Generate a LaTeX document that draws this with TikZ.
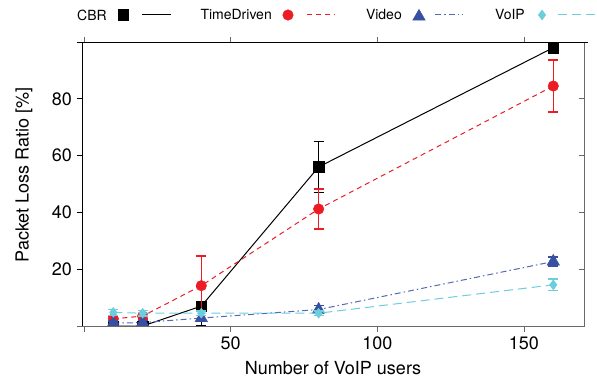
\documentclass[tikz,border=0pt]{standalone}
\usepackage{fontspec}
\setmainfont{TeX Gyre Heros}
\usepackage{tikz}
\usetikzlibrary{plotmarks, calc}

\definecolor{cbrblack}{RGB}{0, 0, 0}
\definecolor{tdred}{RGB}{237, 28, 36}
\definecolor{vidblue}{RGB}{55, 80, 162}
\definecolor{voipcyan}{RGB}{108, 205, 220}
\definecolor{framegray}{RGB}{105, 105, 105}

\tikzset{
  ticklbl/.style={font=\fontsize{18}{18}\selectfont, inner sep=0pt},
  axislbl/.style={font=\fontsize{18}{18}\selectfont, inner sep=0pt},
  keylbl/.style={font=\fontsize{14}{14}\selectfont, inner sep=0pt, anchor=east},
  errbar/.style={line width=1.3pt},
  cbrline/.style={cbrblack, line width=1pt},
  tdline/.style={tdred, line width=1pt, dash pattern=on 5pt off 4pt},
  vidline/.style={vidblue!85, line width=1pt, dash pattern=on 6pt off 3pt on 1.5pt off 3pt},
  voipline/.style={voipcyan, line width=1pt, dash pattern=on 9pt off 5pt},
  cbrmark/.style={only marks, mark=square*, mark size=5.3pt, mark options={solid, draw=cbrblack, fill=cbrblack}},
  tdmark/.style={only marks, mark=*, mark size=5.3pt, mark options={solid, draw=tdred, fill=tdred}},
  vidmark/.style={only marks, mark=triangle*, mark size=7.2pt, mark options={solid, draw=vidblue, fill=vidblue}},
  voipmark/.style={only marks, mark=diamond*, mark size=5pt, mark options={solid, draw=voipcyan, fill=voipcyan}}
}

\begin{document}
\begin{tikzpicture}[x=1pt, y=1pt]
  \useasboundingbox (0,0) rectangle (597,384);

  % Key
  \node[keylbl] (kcbr) at (107,369) {CBR};
  \draw plot[cbrmark] coordinates {(123,369)};
  \draw[cbrline] (142,369) -- (171,369);
  \node[keylbl] (ktd) at (272,369) {TimeDriven};
  \draw plot[tdmark] coordinates {(288,369)};
  \draw[tdline] (307,369) -- (335,369);
  \node[keylbl] (kvid) at (402,369) {Video};
  \draw plot[vidmark] coordinates {(419,367.5)};
  \draw[vidline] (435,369) -- (463,369);
  \node[keylbl] (kvoip) at (525,369) {VoIP};
  \draw plot[voipmark] coordinates {(542,369)};
  \draw[voipline] (558,369) -- (597,369);

  % Axis labels
  \node[axislbl] (xlbl) at (333,16) {Number of VoIP users};
  \node[axislbl, rotate=90] (ylbl) at (24,209) {Packet Loss Ratio [\%]};

  \begin{scope}[shift={(84pt,58pt)}, x=2.933pt, y=2.84pt]
    \coordinate (ll) at (-0.68,0);
    \coordinate (ul) at (-0.68,100);
    \coordinate (lr) at (170.5,0);
    \coordinate (ur) at (170.5,100);

    % Data, clipped to the frame
    \begin{scope}
      \clip (ll) rectangle (ur);

      % CBR
      \draw[cbrline] (10,0) -- (20,0) -- (40,7) -- (80,56) -- (160,98);
      \foreach \px/\py/\pe in {10/0/0.3, 20/0/0.4, 40/7/7, 80/56/9, 160/98/0.5}
        \draw[errbar, cbrblack] (\px,\py-\pe) -- (\px,\py+\pe)
          ($(\px,\py-\pe)+(-5pt,0)$) -- ++(10pt,0)
          ($(\px,\py+\pe)+(-5pt,0)$) -- ++(10pt,0);
      \draw plot[cbrmark] coordinates {(10,0) (20,0) (40,7) (80,56) (160,98)};

      % TimeDriven
      \draw[tdline] (10,2.5) -- (20,3.5) -- (40,14.2) -- (80,41.2) -- (160,84.5);
      \foreach \px/\py/\pe in {10/2.5/1, 20/3.5/1, 40/14.2/10.5, 80/41.2/7, 160/84.5/9.2}
        \draw[errbar, tdred] (\px,\py-\pe) -- (\px,\py+\pe)
          ($(\px,\py-\pe)+(-5pt,0)$) -- ++(10pt,0)
          ($(\px,\py+\pe)+(-5pt,0)$) -- ++(10pt,0);
      \draw plot[tdmark] coordinates {(10,2.5) (20,3.5) (40,14.2) (80,41.2) (160,84.5)};

      % Video
      \draw[vidline] (10,1) -- (20,1.2) -- (40,2.8) -- (80,5.8) -- (160,22.7);
      \foreach \px/\py/\pe in {10/1/0.8, 20/1.2/0.8, 40/2.8/1, 80/5.8/1.5, 160/22.7/1.6}
        \draw[errbar, vidblue] (\px,\py-\pe) -- (\px,\py+\pe)
          ($(\px,\py-\pe)+(-5pt,0)$) -- ++(10pt,0)
          ($(\px,\py+\pe)+(-5pt,0)$) -- ++(10pt,0);
      \draw plot[vidmark] coordinates {(10,1) (20,1.2) (40,2.8) (80,5.8) (160,22.7)};

      % VoIP
      \draw[voipline] (10,4.8) -- (20,4.5) -- (40,4.5) -- (80,4.5) -- (160,14.5);
      \foreach \px/\py/\pe in {10/4.8/1, 20/4.5/1, 40/4.5/0.8, 80/4.5/0.8, 160/14.5/2}
        \draw[errbar, voipcyan] (\px,\py-\pe) -- (\px,\py+\pe)
          ($(\px,\py-\pe)+(-5pt,0)$) -- ++(10pt,0)
          ($(\px,\py+\pe)+(-5pt,0)$) -- ++(10pt,0);
      \draw plot[voipmark] coordinates {(10,4.8) (20,4.5) (40,4.5) (80,4.5) (160,14.5)};
    \end{scope}

    % Frame
    \draw[framegray, line width=1pt] ($(ll)+(-5pt,0)$) -- (lr) -- (ur);
    \draw[black, line width=1pt] ($(ur)+(4pt,0)$) -- ($(ul)+(-5pt,0)$);
    \draw[black, line width=1pt] (ul) -- (ll);

    % Ticks
    \foreach \tx in {0,50,100,150} {
      \draw[framegray, line width=0.8pt] (\tx,0) -- ++(0,-6pt);
      \draw[framegray, line width=0.8pt] (\tx,100) -- ++(0,5pt);
    }
    \foreach \tx in {50,100,150}
      \node[ticklbl, anchor=north] (xt\tx) at ($(\tx,0)+(0,-11pt)$) {\tx};
    \foreach \ty in {20,40,60,80} {
      \draw[black, line width=0.8pt] (-0.68,\ty) -- ++(-5pt,0);
      \draw[framegray, line width=0.8pt] (170.5,\ty) -- ++(-5pt,0);
      \node[ticklbl, anchor=east] (yt\ty) at ($(0,\ty)+(-12pt,0)$) {\ty};
    }
  \end{scope}
\end{tikzpicture}
\end{document}
